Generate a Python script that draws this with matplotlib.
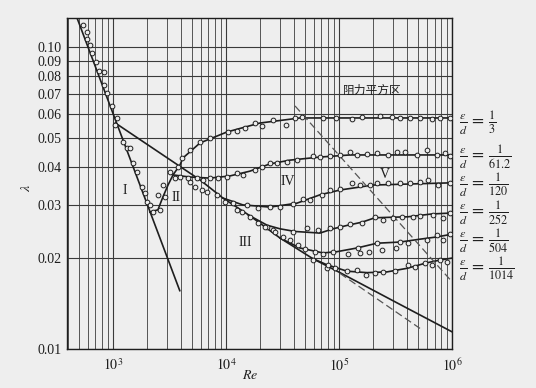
import matplotlib
matplotlib.use("Agg")
import matplotlib.pyplot as plt
from matplotlib.ticker import FixedLocator, LogLocator, NullFormatter

# --- data (Re, lambda) ---
re_laminar = [480, 3900]
lam_laminar = [0.125, 0.0156]

re_smooth = [1050, 5890, 9400, 16300, 30100, 58850, 102000, 340000, 1000000]
lam_smooth = [0.0560, 0.0363, 0.0316, 0.0276, 0.0233, 0.0199, 0.0179, 0.0141, 0.0114]

re_blasius = [102000, 521000]
lam_blasius = [0.0178, 0.0117]

re_limit = [40800, 1000000]
lam_limit = [0.0638, 0.0167]

# solid curves, one per relative roughness
re_c1 = [2120, 2500, 2770, 3070, 3400, 3920, 4160, 5890, 10200, 20000, 45200, 1000000]
lam_c1 = [0.0284, 0.0289, 0.0319, 0.0349, 0.0377, 0.0407, 0.0429, 0.0481, 0.0523, 0.0560, 0.0582, 0.0582]

re_c2 = [3400, 4800, 7210, 10800, 16300, 24500, 36800, 67900, 125000, 1000000]
lam_c2 = [0.0377, 0.0371, 0.0368, 0.0374, 0.0388, 0.0410, 0.0422, 0.0432, 0.0439, 0.0439]

re_c3 = [9400, 14100, 24500, 42500, 67900, 102000, 200000, 1000000]
lam_c3 = [0.0316, 0.0300, 0.0295, 0.0304, 0.0324, 0.0336, 0.0349, 0.0355]

re_c4 = [15700, 23100, 30050, 40800, 67900, 88500, 120200, 159800, 208300, 408000, 665000, 1000000]
lam_c4 = [0.0278, 0.0257, 0.0250, 0.0245, 0.0242, 0.0250, 0.0257, 0.0263, 0.0272, 0.0274, 0.0280, 0.0282]

re_c5 = [30100, 45200, 72200, 95900, 144300, 216800, 346700, 521000, 736000, 1000000]
lam_c5 = [0.0233, 0.0216, 0.0208, 0.0210, 0.0216, 0.0224, 0.0226, 0.0231, 0.0235, 0.0240]

re_c6 = [58850, 78300, 117800, 177000, 266000, 400000, 601000, 783000, 1000000]
lam_c6 = [0.0199, 0.0190, 0.0181, 0.0179, 0.0180, 0.0185, 0.0193, 0.0197, 0.0200]

# measured points (open circles)
re_pts_lam = [543, 589, 589, 626, 652, 708, 752, 832, 832, 885, 980, 1085, 1042, 1226,
              1330, 1413, 1503, 1630, 1806, 1920, 2000]
lam_pts_lam = [0.1183, 0.1121, 0.1063, 0.1015, 0.0955, 0.0892, 0.0833, 0.0827, 0.0749,
               0.0704, 0.0638, 0.0582, 0.0552, 0.0485, 0.0463, 0.0463, 0.0413, 0.0386,
               0.0344, 0.0329, 0.0307]

re_pts_trans = [2120, 2259, 2607, 2500, 2770, 2884, 3190, 3536, 3760]
lam_pts_trans = [0.0300, 0.0284, 0.0289, 0.0324, 0.0349, 0.0319, 0.0386, 0.0368, 0.0400]

re_pts_smooth = [4797, 5320, 6140, 6790, 8320, 12500, 13870, 16300, 23070, 26080, 31900,
                 36800, 43400, 58850, 78300]
lam_pts_smooth = [0.0357, 0.0344, 0.0336, 0.0331, 0.0324, 0.0289, 0.0284, 0.0274, 0.0253,
                  0.0248, 0.0235, 0.0230, 0.0221, 0.0197, 0.0185]

re_pts_c1 = [4083, 4797, 5888, 7215, 10420, 12500, 14720, 18060, 20830, 26080, 33960,
             40800, 47100, 72200, 94000, 130300, 159800, 230700, 294500, 346700, 425000,
             521000, 665000, 783000, 960000]
lam_pts_c1 = [0.0429, 0.0456, 0.0485, 0.0500, 0.0523, 0.0527, 0.0539, 0.0560, 0.0548,
              0.0573, 0.0552, 0.0582, 0.0586, 0.0582, 0.0582, 0.0579, 0.0586, 0.0591,
              0.0586, 0.0582, 0.0582, 0.0582, 0.0579, 0.0582, 0.0582]

re_pts_c2 = [3917, 4613, 5539, 6255, 7215, 8490, 10200, 12500, 14130, 18060, 20830, 24480,
             28250, 34640, 42500, 58850, 67900, 83200, 102000, 125000, 144300, 177000,
             216800, 271500, 326000, 383700, 490000, 601000, 736000, 866000, 960000]
lam_pts_c2 = [0.0371, 0.0368, 0.0368, 0.0363, 0.0368, 0.0368, 0.0371, 0.0383, 0.0377,
              0.0391, 0.0400, 0.0413, 0.0413, 0.0416, 0.0422, 0.0436, 0.0432, 0.0436,
              0.0439, 0.0449, 0.0439, 0.0442, 0.0446, 0.0439, 0.0449, 0.0449, 0.0439,
              0.0456, 0.0439, 0.0446, 0.0436]

re_pts_c3 = [9790, 11530, 15340, 19190, 24480, 30050, 39190, 48000, 55340, 70750, 83200,
             102000, 130300, 153400, 188000, 216800, 271500, 346700, 425000, 521000,
             613000, 752000, 960000]
lam_pts_c3 = [0.0307, 0.0304, 0.0300, 0.0293, 0.0295, 0.0295, 0.0302, 0.0314, 0.0311,
              0.0324, 0.0336, 0.0339, 0.0355, 0.0349, 0.0349, 0.0355, 0.0355, 0.0355,
              0.0355, 0.0357, 0.0363, 0.0349, 0.0355]

re_pts_c4 = [19190, 22130, 27150, 39190, 52120, 65200, 83200, 102000, 125000, 159800,
             208300, 245000, 300500, 361000, 452000, 521000, 679000, 832000, 960000]
lam_pts_c4 = [0.0261, 0.0253, 0.0244, 0.0244, 0.0252, 0.0248, 0.0252, 0.0253, 0.0259,
              0.0261, 0.0274, 0.0267, 0.0272, 0.0274, 0.0274, 0.0276, 0.0278, 0.0272,
              0.0282]

re_pts_c5 = [50000, 61400, 72200, 88500, 147200, 216800, 346700, 408000, 601000, 736000,
             832000, 960000, 120200, 153400, 184100, 240400, 319000]
lam_pts_c5 = [0.0214, 0.0210, 0.0206, 0.0210, 0.0216, 0.0224, 0.0226, 0.0224, 0.0230,
              0.0238, 0.0230, 0.0240, 0.0206, 0.0208, 0.0210, 0.0213, 0.0216]

re_pts_c6 = [80000, 92300, 117800, 144300, 173500, 208300, 245000, 313000, 408000, 471000,
             577000, 665000, 783000, 903000]
lam_pts_c6 = [0.0190, 0.0185, 0.0181, 0.0183, 0.0176, 0.0179, 0.0180, 0.0181, 0.0190,
              0.0187, 0.0193, 0.0190, 0.0197, 0.0194]

roughness_labels = ["3", "61.2", "120", "252", "504", "1014"]
y_ticks = [0.01, 0.02, 0.03, 0.04, 0.05, 0.06, 0.07, 0.08, 0.09, 0.10]
zone_names = ["I", "II", "III", "IV", "V"]

# --- figure ---
bg = "#eeeeee"
ink = "#1e1e1e"
plt.rcParams["mathtext.fontset"] = "stix"
plt.rcParams["font.family"] = ["Liberation Serif", "DejaVu Serif"]

fig = plt.figure(figsize=(5.36, 3.88), dpi=100, facecolor=bg)
ax = fig.add_axes([0.125, 0.1005, 0.7183, 0.8531], facecolor=bg)
ax.set_xscale("log")
ax.set_yscale("log")
ax.set_xlim(392, 1e6)
ax.set_ylim(0.01, 0.1247)

# grid like log paper
ax.xaxis.set_major_locator(FixedLocator([1e3, 1e4, 1e5, 1e6]))
ax.xaxis.set_minor_locator(LogLocator(base=10, subs=range(2, 10)))
ax.xaxis.set_minor_formatter(NullFormatter())
ax.set_xticklabels([r"$10^3$", r"$10^4$", r"$10^5$", r"$10^6$"])
ax.yaxis.set_major_locator(FixedLocator(y_ticks))
ax.yaxis.set_minor_locator(FixedLocator([]))
ax.set_yticklabels(["%.2f" % v for v in y_ticks])
ax.grid(True, which="major", color="#3a3a3a", linewidth=0.8)
ax.grid(True, which="minor", axis="x", color="#555555", linewidth=0.7)
ax.tick_params(which="both", length=0, labelsize=10, colors=ink)
ax.tick_params(axis="y", pad=4)
ax.tick_params(axis="x", pad=6)
for s in ax.spines.values():
    s.set_color(ink)
    s.set_linewidth(1.0)

# lines
kw = dict(color=ink, linewidth=1.2, zorder=3)
ax.plot(re_laminar, lam_laminar, **kw)
ax.plot(re_smooth, lam_smooth, **kw)
for re_c, lam_c in [(re_c1, lam_c1), (re_c2, lam_c2), (re_c3, lam_c3),
                    (re_c4, lam_c4), (re_c5, lam_c5), (re_c6, lam_c6)]:
    ax.plot(re_c, lam_c, **kw)
ax.plot(re_blasius, lam_blasius, color="#555555", linewidth=0.9, dashes=(6, 3), zorder=3)
ax.plot(re_limit, lam_limit, color="#555555", linewidth=0.9, dashes=(6, 3), zorder=3)

# measured points
mk = dict(linestyle="none", marker="o", markersize=3.4, markerfacecolor=bg,
          markeredgecolor=ink, markeredgewidth=0.7, zorder=4)
for re_p, lam_p in [(re_pts_lam, lam_pts_lam), (re_pts_trans, lam_pts_trans),
                    (re_pts_smooth, lam_pts_smooth), (re_pts_c1, lam_pts_c1),
                    (re_pts_c2, lam_pts_c2), (re_pts_c3, lam_pts_c3),
                    (re_pts_c4, lam_pts_c4), (re_pts_c5, lam_pts_c5),
                    (re_pts_c6, lam_pts_c6)]:
    ax.plot(re_p, lam_p, **mk)

# zone labels (figure fractions)
zone_pos = [(0.233, 0.508), (0.328, 0.490), (0.457, 0.376), (0.537, 0.531), (0.718, 0.549)]
for name, (fx, fy) in zip(zone_names, zone_pos):
    fig.text(fx, fy, name, ha="center", va="center", fontsize=10, color=ink)

fig.text(0.640, 0.768, "阻力平方区", ha="left", va="center", fontsize=8.5, color=ink,
         family=["Noto Sans CJK SC", "DejaVu Sans"])

# roughness labels on the right
label_y = [0.683, 0.595, 0.523, 0.451, 0.378, 0.307]
for txt, fy in zip(roughness_labels, label_y):
    fig.text(0.856, fy, r"$\frac{\varepsilon}{d}\,=\,\frac{1}{%s}$" % txt,
             ha="left", va="center", fontsize=12.5, color=ink)

fig.text(0.050, 0.515, r"$\lambda$", rotation=90, ha="center", va="center",
         fontsize=10, color=ink)
fig.text(0.466, 0.031, r"$Re$", ha="center", va="center", fontsize=10, color=ink)

fig.savefig("out.png", dpi=100, facecolor=bg)
